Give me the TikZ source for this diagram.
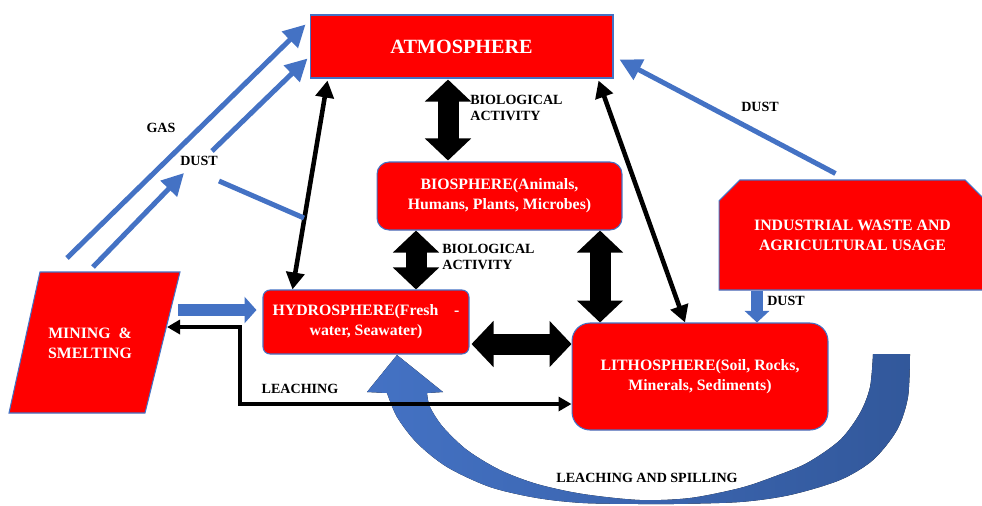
\documentclass[tikz,border=0pt]{standalone}
\usepackage{fontspec}
\setmainfont{Liberation Serif}
\usepackage{xcolor}
\usepackage{tikz}
\usetikzlibrary{
  positioning,
  calc,
  arrows.meta,
  shapes.misc
}
\definecolor{boxred}{RGB}{255,0,0}
\definecolor{flowblue}{RGB}{68,114,196}
\definecolor{deepblue}{RGB}{50,88,155}

\begin{document}
\begin{tikzpicture}[
      x=0.02cm, y=-0.02cm,
      sphere/.style={draw=flowblue, line width=0.6pt, fill=boxred, text=white, align=center, inner sep=0pt, font=\bfseries\fontsize{9}{11.5}\selectfont},
      flowtag/.style={inner sep=0pt, align=left, font=\bfseries\fontsize{8}{9}\selectfont},
      flowline/.style={flowblue, line width=0.1cm, -{Triangle[length=0.44cm, width=0.44cm]}},
      thinway/.style={line width=2.6pt, {Triangle[length=0.34cm, width=0.36cm]}-{Triangle[length=0.34cm, width=0.36cm]}},
      twoway/.style={line width=0.42cm, {Triangle[length=0.44cm, width=0.9cm]}-{Triangle[length=0.44cm, width=0.9cm]}},
      blockflow/.style={flowblue, line width=0.23cm, -{Triangle[length=0.23cm, width=0.48cm]}}
    ]
      \useasboundingbox (0,0) rectangle (982,505);

      % Leaching and spilling (curved band)
      \fill[left color=flowblue, right color=deepblue]
        (397,355) -- (443,392)
        -- plot[smooth] coordinates {(427,393) (430,407) (443,427) (467,450) (500,470) (537,484) (583,494) (640,500) (690,498) (740,488) (773,477) (807,463) (840,440) (860,413) (870,387) (873,354)}
        -- (910,354)
        -- plot[smooth] coordinates {(910,354) (908,397) (897,430) (873,460) (840,480) (790,495) (740,502) (673,504) (640,504) (583,503) (537,498) (490,487) (447,467) (417,443) (397,417) (387,393)}
        -- (367,392) -- cycle;

      % Spheres
      \node[sphere, minimum width=6.06cm, minimum height=1.26cm, font=\bfseries\fontsize{11.5}{13}\selectfont] (atm) at (461.5,46.5) {ATMOSPHERE};
      \node[sphere, rounded corners=0.24cm, minimum width=4.9cm, minimum height=1.36cm] (bio) at (499.5,196) {BIOSPHERE(Animals,\\ Humans, Plants, Microbes)};
      \node[sphere, rounded corners=0.14cm, minimum width=4.12cm, minimum height=1.28cm] (hyd) at (366,322) {HYDROSPHERE(Fresh\quad -\\ water, Seawater)};
      \node[sphere, rounded corners=0.36cm, minimum width=5.12cm, minimum height=2.14cm] (lit) at (700,376.5) {LITHOSPHERE(Soil, Rocks,\\ Minerals, Sediments)};
      \node[sphere, chamfered rectangle, chamfered rectangle corners={north west, north east}, chamfered rectangle xsep=0.36cm, minimum width=5.34cm, minimum height=2.2cm] (ind) at (852.5,235) {INDUSTRIAL WASTE AND\\ AGRICULTURAL USAGE};

      % Mining & smelting
      \coordinate (mineNW) at (40,272);
      \coordinate (mineNE) at (180,272);
      \coordinate (mineSE) at (145,413);
      \coordinate (mineSW) at (9,413);
      \filldraw[fill=boxred, draw=flowblue, line width=0.6pt] (mineNW) -- (mineNE) -- (mineSE) -- (mineSW) -- cycle;
      \node[text=white, align=center, inner sep=0pt, font=\bfseries\fontsize{9}{11.5}\selectfont] (mine) at (90,343) {MINING\ \ \&\\ SMELTING};

      % Black exchanges
      \draw[twoway] ($(atm.south)+(-13.5,1)$) -- ($(bio.north)+(-51.5,-1)$);
      \draw[twoway] (bio.south -| 416,0) -- (hyd.north -| 416,0);
      \draw[twoway] (bio.south -| 600,0) -- (lit.north -| 600,0);
      \draw[twoway] ($(hyd.east |- 0,344)+(2,0)$) -- (lit.west |- 0,344);
      \draw[thinway] ($(atm.south west)+(18,2)$) -- ($(hyd.north west)+(30,0)$);
      \draw[thinway] ($(atm.south east)+(-15,2)$) -- ($(lit.north)+(-15,0)$);

      % Leaching
      \coordinate (leachL) at (240,327);
      \draw[line width=2pt, {Triangle[length=0.26cm, width=0.28cm]}-{Triangle[length=0.26cm, width=0.28cm]}]
        (167,327) -- (leachL) |- (lit.west |- 0,404);

      % Blue flows
      \coordinate (gasStart) at (67,258);
      \coordinate (dustStart) at (93,267);
      \draw[flowline] (gasStart) -- ($(atm.north west)+(-4,10)$);
      \draw[flowline] (dustStart) -- (184,173);
      \draw[flowline] (212,151) -- ($(atm.west)+(-2,12)$);
      \draw[flowblue, line width=0.1cm] (219,181) -- (304,218);
      \draw[flowline] ($(ind.north)+(-17,-6)$) -- ($(atm.east)+(6,13)$);
      \draw[blockflow] (ind.south -| 757,0) -- (lit.north -| 757,0);
      \draw[blockflow, line width=0.24cm, -{Triangle[length=0.24cm, width=0.52cm]}] (178,310) -- ($(hyd.west |- 0,310)+(-6,0)$);

      % Labels
      \node[flowtag, anchor=west] (tagBioA) at (470,108) {BIOLOGICAL\\ ACTIVITY};
      \node[flowtag, anchor=west] (tagBioB) at (442,257) {BIOLOGICAL\\ ACTIVITY};
      \node[flowtag] (tagGas) at (161,128) {GAS};
      \node[flowtag] (tagDustA) at (199,161) {DUST};
      \node[flowtag] (tagDustB) at (760,107) {DUST};
      \node[flowtag] (tagDustC) at (786,301) {DUST};
      \node[flowtag] (tagLeach) at (300,389) {LEACHING};
      \node[flowtag] (tagSpill) at (647,478) {LEACHING AND SPILLING};
    \end{tikzpicture}
\end{document}
